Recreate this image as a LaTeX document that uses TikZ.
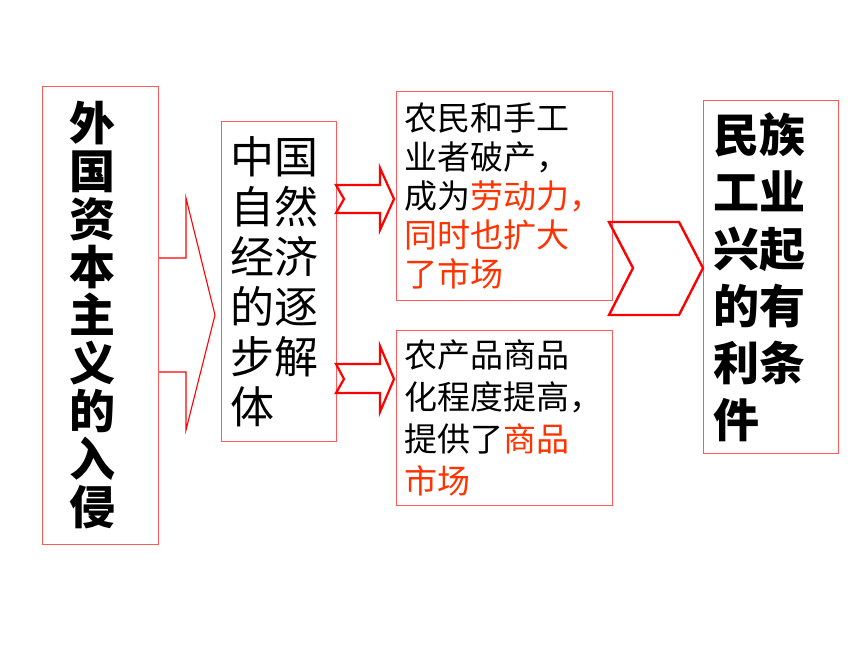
\documentclass[tikz,border=0pt]{standalone}
\usepackage{fontspec}
\setmainfont{Noto Sans CJK SC}
\definecolor{boxred}{RGB}{255,90,90}
\definecolor{txtred}{RGB}{255,51,0}
\definecolor{arrred}{RGB}{255,0,0}
\begin{document}
\begin{tikzpicture}[x=1pt,y=-1pt,
  box/.style={draw=boxred, line width=0.9pt, fill=white, rectangle, anchor=north west, inner ysep=0pt, align=left},
  bigarrow/.style={draw=arrred, line width=1.1pt, line join=miter},
  smallarrow/.style={draw=arrred, line width=2.2pt, line join=miter},
  chevron/.style={draw=arrred, line width=2.4pt, line join=miter}]
\useasboundingbox[fill=white] (0,0) rectangle (860,645);
% big arrow from the left box to the middle box
\draw[bigarrow] (157,258) -- (186,258) -- (186,198) -- (215,315) -- (186,430) -- (186,372) -- (157,372);
\node[box, minimum width=116pt, minimum height=458pt, text width=62pt, inner xsep=27pt,
      font=\bfseries\fontsize{46}{48}\selectfont] (left) at (42,86)
  {外\\国\\资\\本\\主\\义\\的\\入\\侵};
\node[box, minimum width=115pt, minimum height=320pt, text width=97pt, inner xsep=9pt,
      font=\fontsize{44}{50}\selectfont] (mid) at (221,121)
  {中国\\自然\\经济\\的逐\\步解\\体};
\node[box, minimum width=216pt, minimum height=209pt, text width=200pt, inner xsep=8pt,
      font=\fontsize{33}{39}\selectfont] (top) at (396,91)
  {农民和手工\\业者破产，\\成为{\color{txtred}劳动力，}\\{\color{txtred}同时也扩大}\\{\color{txtred}了市场}};
\node[box, minimum width=216pt, minimum height=175pt, text width=200pt, inner xsep=8pt,
      font=\fontsize{33}{42}\selectfont] (bot) at (396,330)
  {农产品商品\\化程度提高，\\提供了{\color{txtred}商品}\\{\color{txtred}市场}};
\node[box, minimum width=135pt, minimum height=353pt, text width=115pt, inner xsep=10pt,
      font=\bfseries\fontsize{46}{57}\selectfont] (res) at (703,100)
  {民族\\工业\\兴起\\的有\\利条\\件};
% notched arrows from the middle box
\draw[smallarrow] (336,185) -- (380,185) -- (380,168) -- (394,199) -- (380,230) -- (380,213) -- (336,213) -- (344,199) -- cycle;
\draw[smallarrow] (336,364) -- (380,364) -- (380,346) -- (394,379) -- (380,412) -- (380,393) -- (336,393) -- (344,379) -- cycle;
% chevron towards the result box
\draw[chevron] (609,222) -- (679,222) -- (703,268) -- (679,315) -- (609,315) -- (633,268) -- cycle;
\end{tikzpicture}
\end{document}
